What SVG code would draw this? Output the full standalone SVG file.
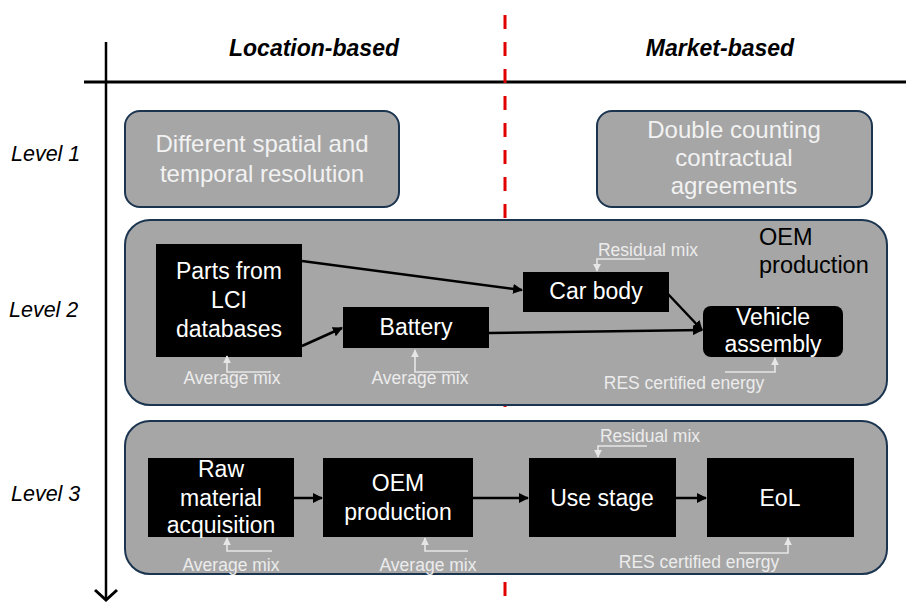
<svg xmlns="http://www.w3.org/2000/svg" width="906" height="602" viewBox="0 0 906 602">
<defs>
<marker id="ah" viewBox="0 0 10 10" refX="9" refY="5" markerWidth="4" markerHeight="4" orient="auto"><path d="M0,0 L10,5 L0,10 z" fill="#000"/></marker>
<marker id="wh" viewBox="0 0 10 10" refX="9" refY="5" markerWidth="5" markerHeight="5" orient="auto"><path d="M0,0 L10,5 L0,10 z" fill="#e6e6e6"/></marker>
<style>
.lvl{fill:#a6a6a6;stroke:#1b3550;stroke-width:2}
.blk{fill:#000}
.bt{font-family:"Liberation Sans",Arial,sans-serif;font-size:23px;fill:#fff;text-anchor:middle}
.lt{font-family:"Liberation Sans",Arial,sans-serif;font-size:24px;fill:#f2f2f2;text-anchor:middle}
.an{font-family:"Liberation Sans",Arial,sans-serif;font-size:17.5px;fill:#ececec;text-anchor:middle}
.al{fill:none;stroke:#e6e6e6;stroke-width:1.6}
.hd{font-family:"Liberation Sans",Arial,sans-serif;font-size:23px;font-weight:bold;font-style:italic;fill:#000;text-anchor:middle}
.lv{font-family:"Liberation Sans",Arial,sans-serif;font-size:21.5px;font-style:italic;fill:#000}
.con{fill:none;stroke:#000;stroke-width:2.5;marker-end:url(#ah)}
</style>
</defs>
<rect width="906" height="602" fill="#fff"/>

<g id="axes">
<line x1="106" y1="42" x2="106" y2="599" stroke="#000" stroke-width="2.5"/>
<polyline points="95,590 106,600 117,590" fill="none" stroke="#000" stroke-width="3"/>
<line x1="84" y1="82" x2="906" y2="82" stroke="#000" stroke-width="3"/>
<line x1="505" y1="15" x2="505" y2="602" stroke="#e00000" stroke-width="3" stroke-dasharray="14 13"/>
</g>

<g id="headers">
<text class="hd" x="314" y="56">Location-based</text>
<text class="hd" x="720" y="56">Market-based</text>
<text class="lv" x="11" y="161">Level 1</text>
<text class="lv" x="9" y="317">Level 2</text>
<text class="lv" x="11" y="501">Level 3</text>
</g>

<g id="level1-location">
<rect class="lvl" x="125" y="111" width="274" height="96" rx="15"/>
<text class="lt" x="262" y="152">Different spatial and</text>
<text class="lt" x="262" y="182">temporal resolution</text>
</g>
<g id="level1-market">
<rect class="lvl" x="597" y="111" width="275" height="96" rx="15"/>
<text class="lt" x="734" y="138">Double counting</text>
<text class="lt" x="734" y="166">contractual</text>
<text class="lt" x="734" y="194">agreements</text>
</g>

<g id="level2">
<rect class="lvl" x="125" y="220" width="762" height="185" rx="25"/>
<text x="759" y="245" font-family="Liberation Sans,Arial,sans-serif" font-size="23.5" fill="#000">OEM</text>
<text x="759" y="273" font-family="Liberation Sans,Arial,sans-serif" font-size="23.5" fill="#000">production</text>
</g>

<g id="level3">
<rect class="lvl" x="125" y="421" width="762" height="153" rx="25"/>
</g>

<g id="parts">
<rect class="blk" x="156" y="244" width="146" height="113"/>
<text class="bt" x="229" y="279">Parts from</text>
<text class="bt" x="229" y="308">LCI</text>
<text class="bt" x="229" y="337">databases</text>
</g>
<g id="battery">
<rect class="blk" x="343" y="307" width="146" height="41"/>
<text class="bt" x="416" y="335">Battery</text>
</g>
<g id="carbody">
<rect class="blk" x="523" y="272" width="146" height="40"/>
<text class="bt" x="596" y="299">Car body</text>
</g>
<g id="vehicle">
<rect class="blk" x="703" y="306" width="140" height="51" rx="8"/>
<text class="bt" x="773" y="325">Vehicle</text>
<text class="bt" x="773" y="352">assembly</text>
</g>

<g id="rawmat">
<rect class="blk" x="148" y="458" width="146" height="79"/>
<text class="bt" x="221" y="477">Raw</text>
<text class="bt" x="221" y="506">material</text>
<text class="bt" x="221" y="533">acquisition</text>
</g>
<g id="oemprod">
<rect class="blk" x="323" y="458" width="150" height="79"/>
<text class="bt" x="398" y="491">OEM</text>
<text class="bt" x="398" y="520">production</text>
</g>
<g id="usestage">
<rect class="blk" x="529" y="458" width="147" height="79"/>
<text class="bt" x="602" y="506">Use stage</text>
</g>
<g id="eol">
<rect class="blk" x="707" y="458" width="147" height="79"/>
<text class="bt" x="780" y="506">EoL</text>
</g>

<g id="annotations">
<polyline class="al" points="270,372 227,372 227,356" marker-end="url(#wh)"/>
<text class="an" x="232" y="384">Average mix</text>
<polyline class="al" points="460,372 415,372 415,350" marker-end="url(#wh)"/>
<text class="an" x="420" y="384">Average mix</text>
<polyline class="al" points="645,259 597,259 597,271" marker-end="url(#wh)"/>
<text class="an" x="648" y="256">Residual mix</text>
<polyline class="al" points="725,372 775,372 775,358" marker-end="url(#wh)"/>
<text class="an" x="684" y="389">RES certified energy</text>

<polyline class="al" points="272,551 227,551 227,538" marker-end="url(#wh)"/>
<text class="an" x="231" y="571">Average mix</text>
<polyline class="al" points="468,551 425,551 425,538" marker-end="url(#wh)"/>
<text class="an" x="428" y="571">Average mix</text>
<polyline class="al" points="647,446 598,446 598,457" marker-end="url(#wh)"/>
<text class="an" x="650" y="442">Residual mix</text>
<polyline class="al" points="739,553 788,553 788,538" marker-end="url(#wh)"/>
<text class="an" x="699" y="568">RES certified energy</text>
</g>

<g id="connectors">
<line class="con" x1="302" y1="261" x2="522" y2="290"/>
<line class="con" x1="302" y1="346" x2="342" y2="328"/>
<line class="con" x1="489" y1="333" x2="702" y2="330"/>
<line class="con" x1="668" y1="294" x2="702" y2="330"/>
<line class="con" x1="294" y1="498" x2="322" y2="498"/>
<line class="con" x1="473" y1="498" x2="528" y2="498"/>
<line class="con" x1="676" y1="498" x2="706" y2="498"/>
</g>
</svg>
